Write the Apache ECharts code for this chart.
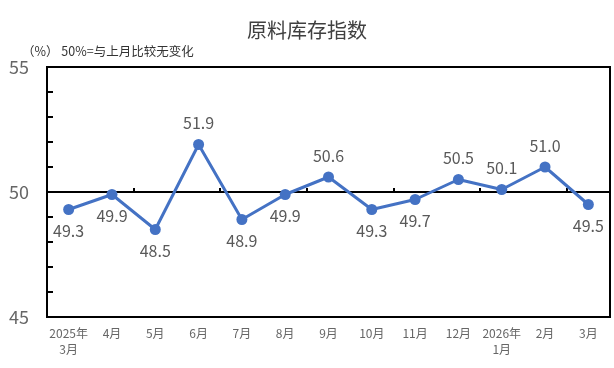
<!DOCTYPE html>
<html><head><meta charset="utf-8">
<script src="https://cdn.jsdelivr.net/npm/echarts@6/dist/echarts.min.js"></script>
<style>html,body{margin:0;padding:0;background:#fff}#c{width:614px;height:368px}</style>
</head><body><div id="c"></div>
<script>
const categories = ['2025年\n3月','4月','5月','6月','7月','8月','9月','10月','11月','12月','2026年\n1月','2月','3月'];
const values = [49.3, 49.9, 48.5, 51.9, 48.9, 49.9, 50.6, 49.3, 49.7, 50.5, 50.1, 51.0, 49.5];
const labelPos = ['bottom','bottom','bottom','top','bottom','bottom','top','bottom','bottom','top','top','top','bottom'];
const yTicks = [45, 50, 55];
const title = '原料库存指数';
const subtitle = '（%） 50%=与上月比较无变化';

const chart = echarts.init(document.getElementById('c'));
const font = 'Noto Sans CJK SC';
chart.setOption({
  animation: false,
  textStyle: {fontFamily: font},
  title: [
    {text: title, left: 'center', top: 15, textStyle: {fontSize: 20, fontWeight: 'normal', color: '#404040', fontFamily: font}},
    {text: subtitle, left: 17, top: 40, textStyle: {fontSize: 12.5, fontWeight: 'normal', color: '#333', fontFamily: font}}
  ],
  grid: [
    {left: 47, right: 4, top: 67, bottom: 51, show: true, borderColor: '#000', borderWidth: 2},
    {left: 47, right: 4, top: 67, height: 125}
  ],
  xAxis: [
    {type: 'category', data: categories, gridIndex: 0, boundaryGap: true,
     axisLine: {show: true, lineStyle: {color: '#000', width: 2}},
     axisTick: {show: false},
     axisLabel: {interval: 0, color: '#666', fontSize: 12, margin: 8, lineHeight: 16}},
    {type: 'category', data: categories, gridIndex: 1, boundaryGap: true,
     axisLine: {show: true, lineStyle: {color: '#000', width: 2}},
     axisTick: {show: true, inside: true, length: 4, lineStyle: {color: '#000', width: 2}},
     axisLabel: {show: false}}
  ],
  yAxis: [
    {type: 'value', gridIndex: 0, min: yTicks[0], max: yTicks[yTicks.length-1], interval: 5,
     axisLine: {show: true, lineStyle: {color: '#000', width: 2}},
     axisTick: {show: true, inside: true, length: 6, lineStyle: {color: '#000', width: 2}},
     minorTick: {show: true, splitNumber: 5, length: 6, lineStyle: {color: '#000', width: 2}},
     splitLine: {show: false},
     axisLabel: {color: '#666', fontSize: 18, margin: 18}},
    {type: 'value', gridIndex: 1, min: 50, max: 55, show: false}
  ],
  series: [{
    type: 'line', xAxisIndex: 0, yAxisIndex: 0,
    data: values.map((v, i) => ({value: v, label: {position: labelPos[i]}})),
    symbol: 'circle', symbolSize: 11,
    lineStyle: {color: '#4472C4', width: 3},
    itemStyle: {color: '#4472C4'},
    label: {show: true, fontSize: 16, color: '#595959', distance: 8, formatter: p => p.value.toFixed(1)},
    z: 5
  }]
});
</script></body></html>
